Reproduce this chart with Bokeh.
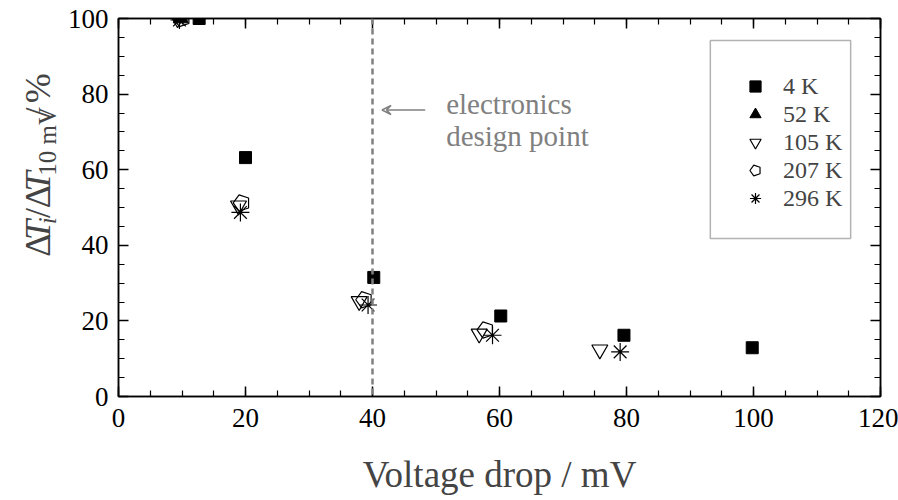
import math
from bokeh.plotting import figure
from bokeh.layouts import row
from bokeh.models import (Span, Label, Arrow, VeeHead, LinearAxis, Legend, LegendItem,
                          SingleIntervalTicker, Range1d, BoxAnnotation)
from bokeh.embed import file_html
from bokeh.resources import INLINE

# ---- data ----
v_4K = [12.7, 20.0, 40.2, 60.2, 79.6, 99.8]
t_4K = [100, 63.2, 31.5, 21.3, 16.2, 12.9]
v_52K = [9.8]
t_52K = [100]
v_105K = [9.3, 18.9, 37.9, 56.8, 75.8]
t_105K = [100, 50.5, 25.2, 16.6, 12.4]
v_207K = [10.0, 19.4, 38.7, 57.8]
t_207K = [100, 51.2, 25.6, 17.6]
v_296K = [9.6, 19.2, 39.3, 58.9, 79.0]
t_296K = [99.6, 48.7, 24.2, 16.2, 11.8]
series_names = ["4 K", "52 K", "105 K", "207 K", "296 K"]
design_point = 40
x_label = "Voltage drop / mV"

FONT = "Liberation Serif"
TICK_FS = "27px"
GRAY = "#808080"
LBL_W = 60

p = figure(width=898 - LBL_W, height=500, output_backend="svg", toolbar_location=None,
           x_range=Range1d(0, 120), y_range=Range1d(0, 100),
           min_border_left=118 - LBL_W, min_border_right=18, min_border_top=18,
           min_border_bottom=104)
p.grid.visible = False
p.outline_line_color = "black"
p.outline_line_width = 1.5
p.background_fill_color = "white"
p.border_fill_color = "white"

p.xaxis.ticker = SingleIntervalTicker(interval=20, num_minor_ticks=4)
p.yaxis.ticker = SingleIntervalTicker(interval=20, num_minor_ticks=4)


def style_axis(ax, show_labels=True):
    ax.major_tick_in = 10
    ax.major_tick_out = 0
    ax.minor_tick_in = 6
    ax.minor_tick_out = 0
    ax.axis_line_width = 1.5
    ax.major_tick_line_width = 1.5
    ax.minor_tick_line_width = 1.2
    ax.axis_line_color = "black"
    ax.major_label_text_font = FONT
    ax.major_label_text_font_size = TICK_FS
    ax.major_label_text_color = "black"
    if not show_labels:
        ax.major_label_text_font_size = "0px"
        ax.major_label_text_alpha = 0
        ax.major_label_standoff = 0


for ax in p.xaxis:
    style_axis(ax)
    ax.major_label_standoff = 12
    ax.axis_label = x_label
    ax.axis_label_text_font = FONT
    ax.axis_label_text_font_size = "37px"
    ax.axis_label_text_font_style = "normal"
    ax.axis_label_standoff = 24
for ax in p.yaxis:
    style_axis(ax)
    ax.major_label_standoff = 10

top = LinearAxis(ticker=SingleIntervalTicker(interval=20, num_minor_ticks=4))
style_axis(top, False)
p.add_layout(top, "above")
right = LinearAxis(ticker=SingleIntervalTicker(interval=20, num_minor_ticks=4))
style_axis(right, False)
p.add_layout(right, "right")

# vertical design-point line + annotation
p.add_layout(Span(location=design_point, dimension="height", line_color=GRAY,
                  line_dash="6 4", line_width=2.5))
p.add_layout(Arrow(end=VeeHead(size=9, line_color=GRAY, line_width=1.5, fill_alpha=0),
                   x_start=48.3, y_start=75.8, x_end=41.5, y_end=75.8,
                   line_color=GRAY, line_width=1.5))
p.add_layout(Label(x=51.6, y=77.3, text="electronics", text_font=FONT, text_font_size="29px",
                   text_color=GRAY, text_baseline="alphabetic"))
p.add_layout(Label(x=51.6, y=68.8, text="design point", text_font=FONT, text_font_size="29px",
                   text_color=GRAY, text_baseline="alphabetic"))

# legend frame
p.add_layout(BoxAnnotation(left=93.2, right=115.3, bottom=41.8, top=94.2,
                           fill_color="white", fill_alpha=1, line_color="black",
                           line_width=1.5))

r4 = p.scatter(v_4K, t_4K, marker="square", size=12, fill_color="black", line_color="black")
r52 = p.scatter(v_52K, t_52K, marker="triangle", size=15, fill_color="black", line_color="black")
r105 = p.scatter(v_105K, t_105K, marker="inverted_triangle", size=16, fill_color=None,
                 line_color="black", line_width=1.2)
r207 = p.ngon(v_207K, t_207K, radius=8.5, radius_units="screen", n=5, angle=math.pi / 2,
              fill_color=None, line_color="black", line_width=1.2)
r296 = p.scatter(v_296K, t_296K, marker="asterisk", size=18, line_color="black", line_width=1.2)

GH = 28
legend = Legend(items=[LegendItem(label=n, renderers=[r]) for n, r in
                       zip(series_names, [r4, r52, r105, r207, r296])],
                location=(755 - GH // 2 - 118, 396 - 198 - GH // 2), padding=0,
                spacing=0, label_standoff=783 - (755 + GH // 2),
                glyph_width=GH, glyph_height=GH,
                label_text_font=FONT, label_text_font_size="24px",
                border_line_alpha=0, background_fill_alpha=0, margin=0)
p.add_layout(legend, "center")

# ---- y-axis label (separate narrow panel, coordinates = pixels) ----
lf = figure(width=LBL_W, height=500, output_backend="svg", toolbar_location=None,
            x_range=Range1d(0, LBL_W), y_range=Range1d(0, 500),
            x_axis_location=None, y_axis_location=None, min_border=0)
lf.grid.visible = False
lf.outline_line_color = None
lf.background_fill_color = "white"
lf.border_fill_color = "white"

MAIN_FS, SUB_FS, SUB_SHIFT, BASE_X = 36, 25, 10, 37
# (text, style, size, subscript?, bottom edge in page px)
pieces = [("Δ", "normal", MAIN_FS, False, 315), ("T", "italic", MAIN_FS, False, 293),
          ("i", "italic", SUB_FS, True, 272), ("/", "normal", MAIN_FS, False, 264),
          ("Δ", "normal", MAIN_FS, False, 251), ("T", "italic", MAIN_FS, False, 229),
          ("10 mV", "normal", SUB_FS, True, 208), ("/", "normal", MAIN_FS, False, 131),
          ("%", "normal", MAIN_FS, False, 112)]
for txt, style, fs, sub, ybot in pieces:
    lf.add_layout(Label(x=BASE_X + (SUB_SHIFT if sub else 0), y=500 - ybot, text=txt,
                        angle=math.pi / 2, text_font=FONT, text_font_style=style,
                        text_font_size=f"{fs}px", text_align="left",
                        text_baseline="alphabetic"))

layout = row(lf, p, spacing=0)
open("out.html", "w").write(file_html(layout, INLINE))
